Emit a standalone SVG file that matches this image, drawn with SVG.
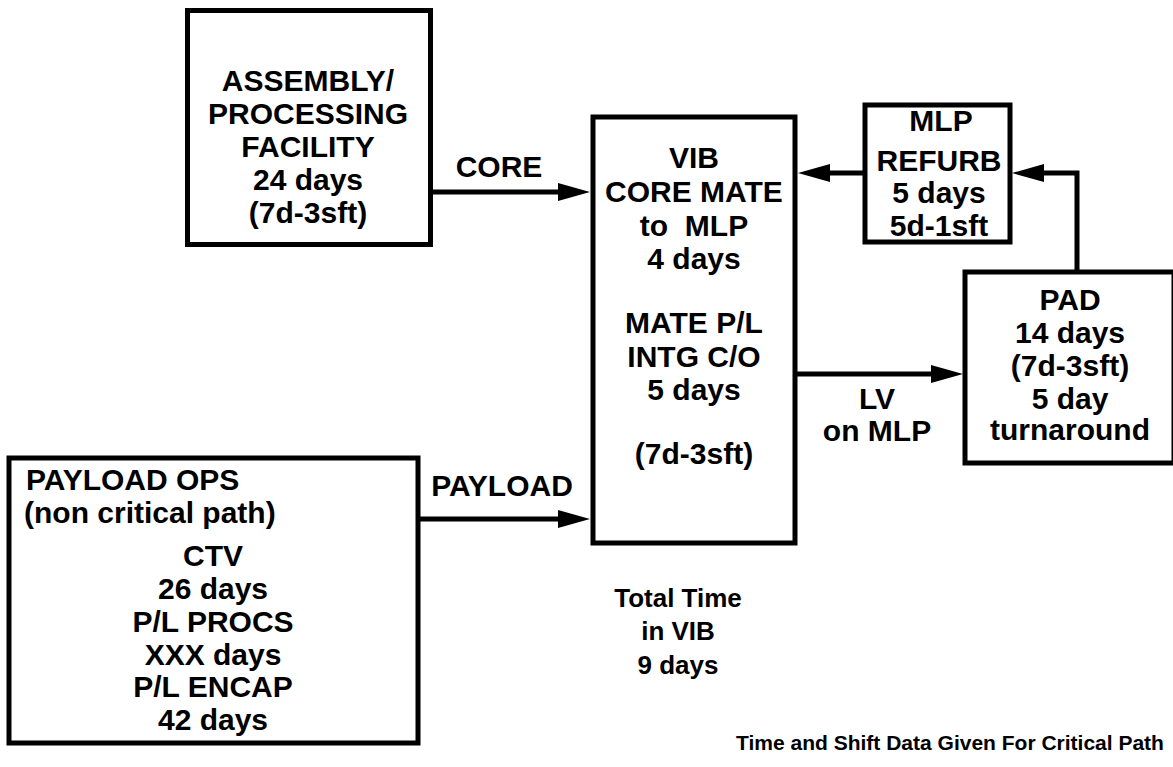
<svg xmlns="http://www.w3.org/2000/svg" width="1173" height="767" viewBox="0 0 1173 767">
<style>
.box{fill:#fff;stroke:#000;stroke-width:5}
.t{font-family:"Liberation Sans",Arial,sans-serif;font-weight:bold;font-size:30px;fill:#000;text-anchor:middle}
.l{text-anchor:start}
.s{font-size:26px}
.c{font-size:21px}
.con{fill:none;stroke:#000;stroke-width:5}
</style>
<defs>
<marker id="ah" markerUnits="userSpaceOnUse" markerWidth="34" markerHeight="20" refX="17" refY="9" orient="auto" viewBox="0 0 34 20">
<path d="M0,0 L32,9 L0,18 z" fill="#000"/>
</marker>
</defs>
<rect width="1173" height="767" fill="#fff"/>
<g id="connectors">
<path class="con" d="M433,192 H575" marker-end="url(#ah)"/>
<path class="con" d="M418,519 H575" marker-end="url(#ah)"/>
<path class="con" d="M865,173 H813" marker-end="url(#ah)"/>
<path class="con" d="M1077,272 V173 H1027" marker-end="url(#ah)"/>
<path class="con" d="M795,374 H948" marker-end="url(#ah)"/>
<text class="t" x="499" y="177">CORE</text>
<text class="t" x="502" y="496">PAYLOAD</text>
<text class="t" x="877" y="409">LV</text>
<text class="t" x="877" y="441">on MLP</text>
</g>
<g id="assembly">
<rect class="box" x="187.5" y="10.5" width="243" height="234"/>
<text class="t" x="308" y="91">ASSEMBLY/</text>
<text class="t" x="308" y="124">PROCESSING</text>
<text class="t" x="308" y="157">FACILITY</text>
<text class="t" x="308" y="190">24 days</text>
<text class="t" x="308" y="223">(7d-3sft)</text>
</g>
<g id="vib">
<rect class="box" x="593" y="117" width="202" height="426"/>
<text class="t" x="694" y="168">VIB</text>
<text class="t" x="694" y="202">CORE MATE</text>
<text class="t" x="694" y="236" style="white-space:pre">to  MLP</text>
<text class="t" x="694" y="269">4 days</text>
<text class="t" x="694" y="333">MATE P/L</text>
<text class="t" x="694" y="367">INTG C/O</text>
<text class="t" x="694" y="400">5 days</text>
<text class="t" x="694" y="464">(7d-3sft)</text>
</g>
<g id="mlp">
<rect class="box" x="865" y="105" width="145" height="137"/>
<text class="t" x="941" y="131">MLP</text>
<text class="t" x="939" y="171">REFURB</text>
<text class="t" x="939" y="203">5 days</text>
<text class="t" x="939" y="236">5d-1sft</text>
</g>
<g id="pad">
<rect class="box" x="965" y="272" width="209" height="191"/>
<text class="t" x="1070" y="310">PAD</text>
<text class="t" x="1070" y="343">14 days</text>
<text class="t" x="1070" y="376">(7d-3sft)</text>
<text class="t" x="1070" y="409">5 day</text>
<text class="t" x="1070" y="440">turnaround</text>
</g>
<g id="payload">
<rect class="box" x="9" y="458" width="409" height="285"/>
<text class="t l" x="26" y="490">PAYLOAD OPS</text>
<text class="t l" x="24" y="523">(non critical path)</text>
<text class="t" x="213" y="566">CTV</text>
<text class="t" x="213" y="599">26 days</text>
<text class="t" x="213" y="632">P/L PROCS</text>
<text class="t" x="213" y="665">XXX days</text>
<text class="t" x="213" y="697">P/L ENCAP</text>
<text class="t" x="213" y="730">42 days</text>
</g>
<g id="total">
<text class="t s" x="678" y="607">Total Time</text>
<text class="t s" x="678" y="640">in VIB</text>
<text class="t s" x="678" y="674">9 days</text>
</g>
<g id="caption">
<text class="t c" x="950" y="750">Time and Shift Data Given For Critical Path</text>
</g>
</svg>
